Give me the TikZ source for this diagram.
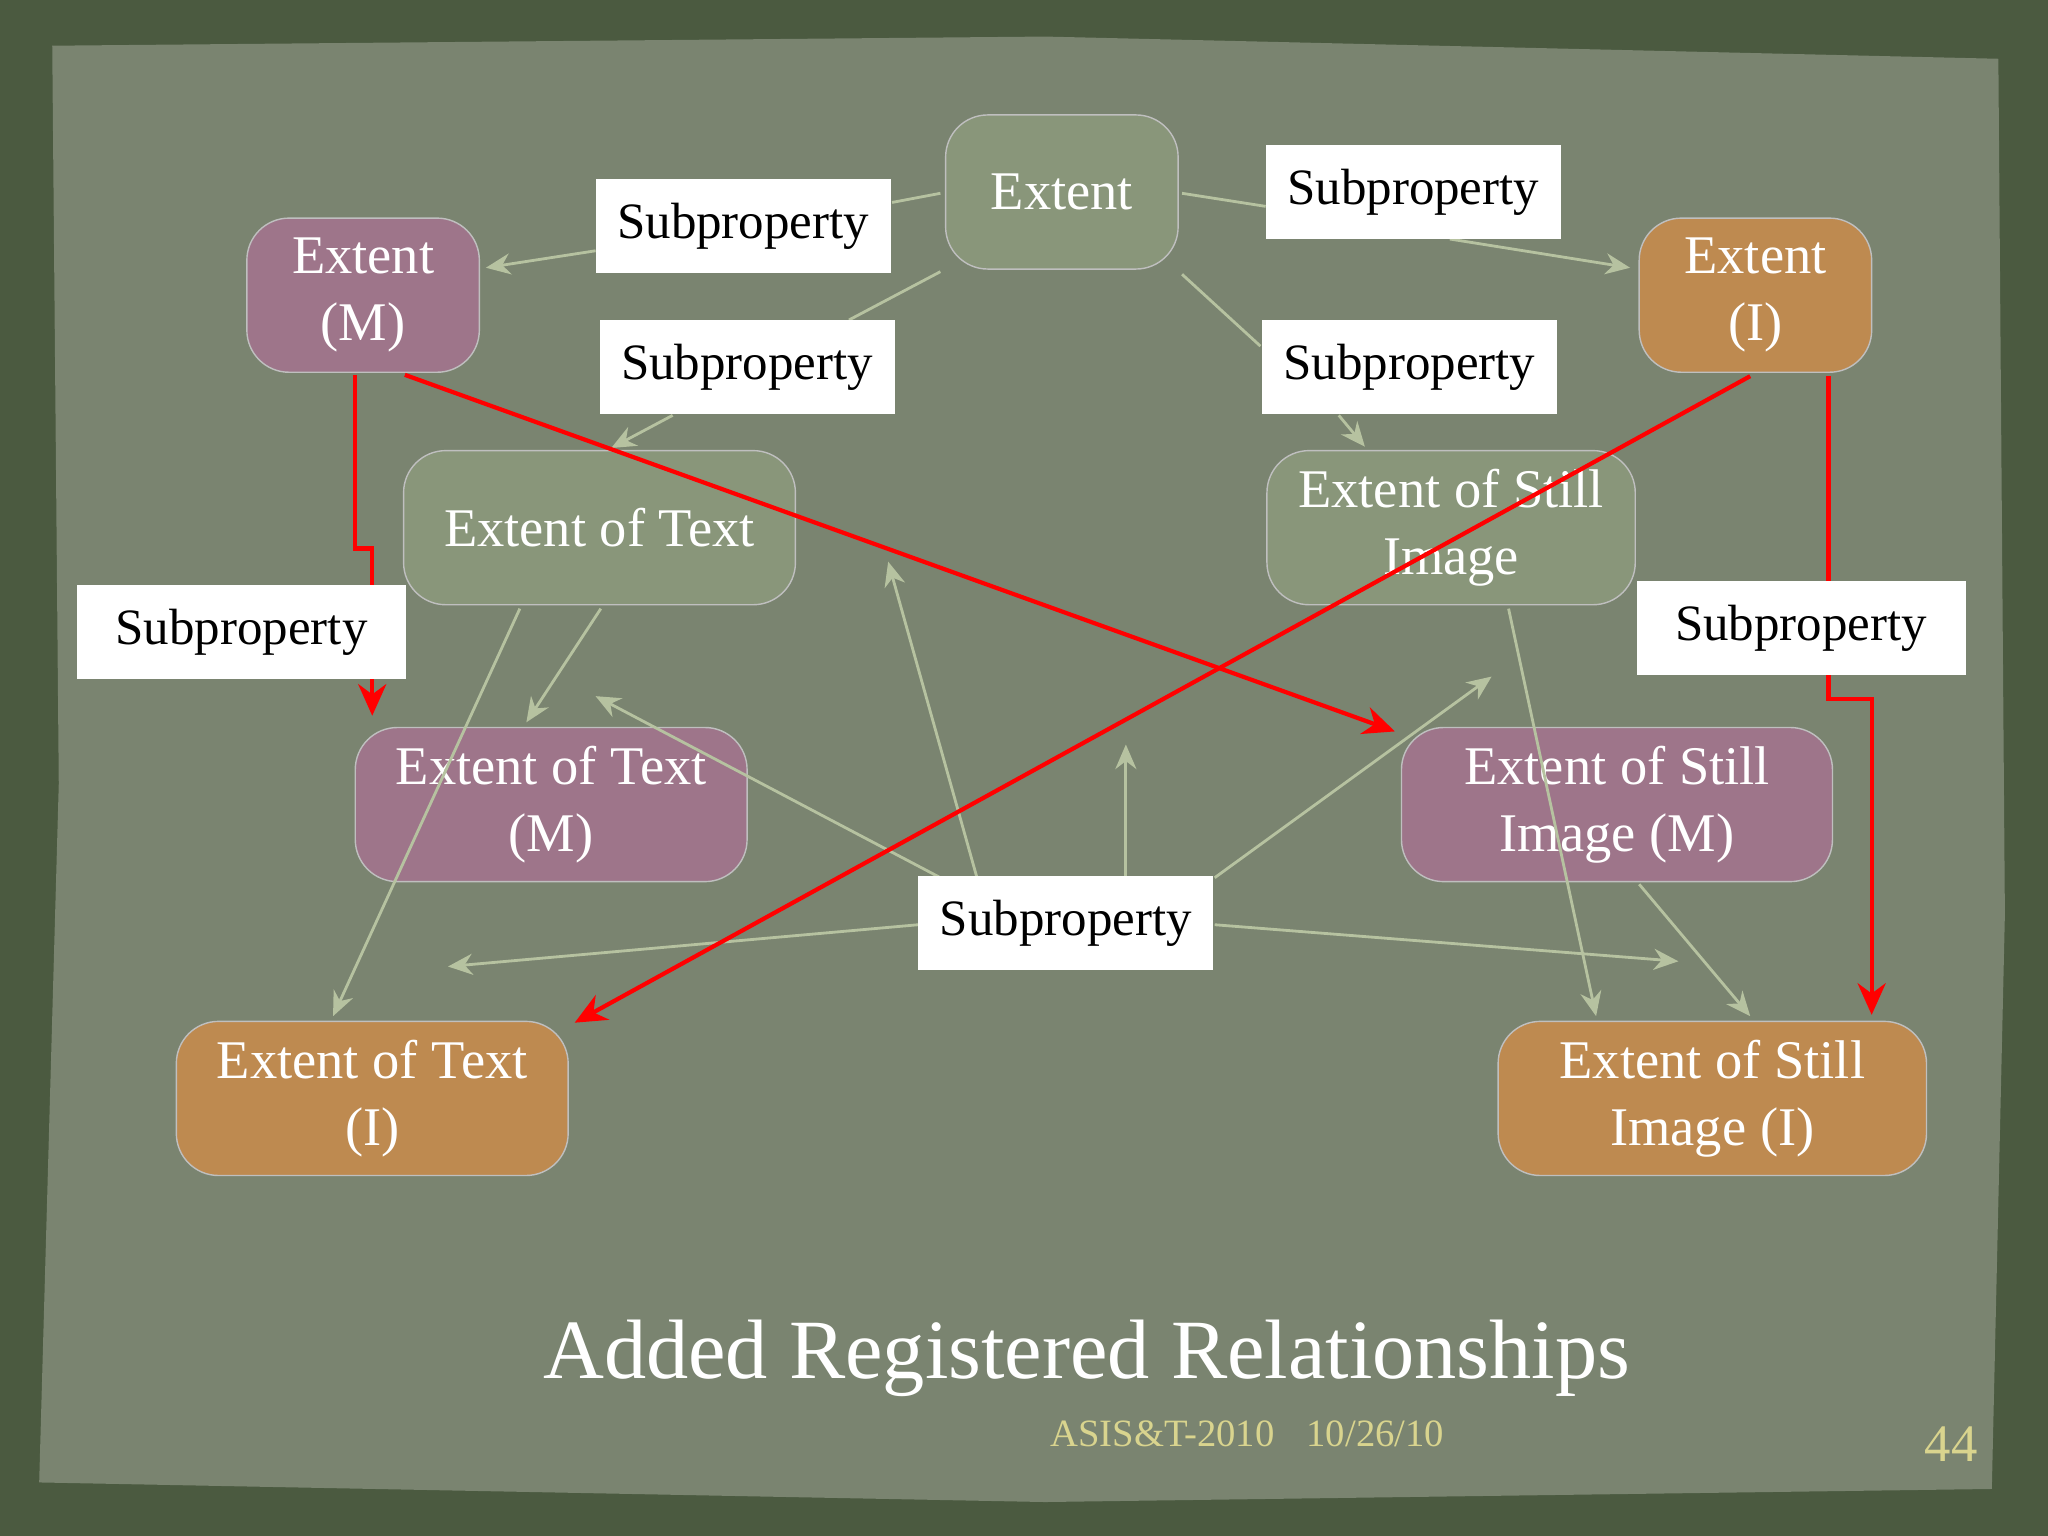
\documentclass[tikz,border=0pt]{standalone}
\usepackage{fontspec}
\setmainfont{Liberation Serif}
\usetikzlibrary{arrows.meta}
\definecolor{bgout}{HTML}{4B5A40}
\definecolor{panel}{HTML}{7A8470}
\definecolor{gnode}{HTML}{89967A}
\definecolor{pnode}{HTML}{9E758A}
\definecolor{onode}{HTML}{BE8A50}
\definecolor{lline}{HTML}{B6C2A0}
\definecolor{foot}{HTML}{D9D48E}
\begin{document}
\begin{tikzpicture}[x=0.013061cm,y=-0.013061cm,
 box/.style={rounded corners=12pt,minimum height=118*0.013061cm,align=center,text=white,font=\fontsize{15.5}{19}\selectfont,draw=black!25,line width=0.4pt},
 g/.style={box,fill=gnode},p/.style={box,fill=pnode},o/.style={box,fill=onode},
 lab/.style={fill=white,minimum height=72*0.013061cm,minimum width=226*0.013061cm,font=\fontsize{14.5}{18}\selectfont},
 ll/.style={draw=lline,line width=0.8pt},
 la/.style={ll,-{Stealth[length=7pt,width=6pt]}},
 rl/.style={draw=red,line width=1.2pt},
 ra/.style={rl,-{Stealth[length=9pt,width=8pt]}}]
\fill[bgout] (0,0) rectangle (1568,1176);
\fill[panel] (40,35) -- (800,28) -- (1530,45) -- (1535,700) -- (1525,1140) -- (800,1150) -- (30,1135) -- (45,600) -- cycle;
% nodes
\node[g,minimum width=178*0.013061cm] (e) at (813,147) {Extent};
\node[p,minimum width=178*0.013061cm] (em) at (278,226) {Extent\\(M)};
\node[o,minimum width=178*0.013061cm] (ei) at (1344,226) {Extent\\(I)};
\node[g,minimum width=300*0.013061cm] (et) at (459,404) {Extent of Text};
\node[g,minimum width=282*0.013061cm] (es) at (1111,404) {Extent of Still\\Image};
\node[p,minimum width=300*0.013061cm] (etm) at (422,616) {Extent of Text\\(M)};
\node[p,minimum width=330*0.013061cm] (esm) at (1238,616) {Extent of Still\\Image (M)};
\node[o,minimum width=300*0.013061cm] (eti) at (285,841) {Extent of Text\\(I)};
\node[o,minimum width=328*0.013061cm] (esi) at (1311,841) {Extent of Still\\Image (I)};
% labels (positions)
\coordinate (l1) at (569,173);\coordinate (l2) at (1082,147);
\coordinate (l3) at (572,281);\coordinate (l4) at (1079,281);
\coordinate (l5) at (185,484);\coordinate (l6) at (1379,481);
\coordinate (l7) at (816,707);
% light connectors
\coordinate (a1) at (720,148);\coordinate (a2) at (456,192);\coordinate (b1) at (372,205);
\draw[ll] (a1) -- (683,155); \draw[la] (a2) -- (b1);
\coordinate (c1) at (905,148);\coordinate (c2) at (969,158);\coordinate (c3) at (1110,183);\coordinate (c4) at (1248,205);
\draw[ll] (c1) -- (c2); \draw[la] (c3) -- (c4);
\coordinate (d1) at (720,208);\coordinate (d2) at (650,245);\coordinate (d3) at (515,318);\coordinate (d4) at (468,343);
\draw[ll] (d1) -- (d2); \draw[la] (d3) -- (d4);
\coordinate (f1) at (905,210);\coordinate (f2) at (965,265);\coordinate (f3) at (1025,318);\coordinate (f4) at (1045,342);
\draw[ll] (f1) -- (f2); \draw[la] (f3) -- (f4);
\coordinate (h1) at (460,466);\coordinate (h2) at (403,553);\draw[la] (h1) -- (h2);
\coordinate (i1) at (398,466);\coordinate (i2) at (255,778);\draw[la] (i1) -- (i2);
\coordinate (j1) at (1155,466);\coordinate (j2) at (1222,778);\draw[la] (j1) -- (j2);
\coordinate (k1) at (1255,677);\coordinate (k2) at (1340,778);\draw[la] (k1) -- (k2);
\coordinate (m1) at (703,708);\coordinate (m2) at (343,740);\draw[la] (m1) -- (m2);
\coordinate (n1) at (930,708);\coordinate (n2) at (1285,736);\draw[la] (n1) -- (n2);
\coordinate (q1) at (862,672);\coordinate (q2) at (862,570);\draw[la] (q1) -- (q2);
\coordinate (r1) at (748,672);\coordinate (r2) at (680,430);\draw[la] (r1) -- (r2);
\coordinate (s1) at (720,672);\coordinate (s2) at (456,533);\draw[la] (s1) -- (s2);
\coordinate (t1) at (930,672);\coordinate (t2) at (1142,518);\draw[la] (t1) -- (t2);
% red connectors
\coordinate (u1) at (272,287);\coordinate (u2) at (285,548);
\draw[ra] (u1) -- (272,420) -- (285,420) -- (u2);
\coordinate (v1) at (310,287);\coordinate (v2) at (1068,560);\draw[ra] (v1) -- (v2);
\coordinate (w1) at (1340,288);\coordinate (w2) at (440,783);\draw[ra] (w1) -- (w2);
\coordinate (z1) at (1400,288);\coordinate (z2) at (1433,777);
\draw[ra] (z1) -- (1400,535) -- (1433,535) -- (z2);
% labels
\node[lab] (L1) at (l1) {Subproperty};
\node[lab] (L2) at (l2) {Subproperty};
\node[lab] (L3) at (l3) {Subproperty};
\node[lab] (L4) at (l4) {Subproperty};
\node[lab,minimum width=252*0.013061cm] (L5) at (l5) {Subproperty};
\node[lab,minimum width=252*0.013061cm] (L6) at (l6) {Subproperty};
\node[lab] (L7) at (l7) {Subproperty};
% title
\node[text=white,font=\fontsize{24}{28}\selectfont] (title) at (832,1040) {Added Registered Relationships};
\node[text=foot,font=\fontsize{11}{13}\selectfont] (f1n) at (890,1098) {ASIS\&T-2010};
\node[text=foot,font=\fontsize{11}{13}\selectfont] (f2n) at (1053,1098) {10/26/10};
\node[text=foot,font=\fontsize{15}{18}\selectfont] (pg) at (1494,1106) {44};
\end{tikzpicture}
\end{document}
